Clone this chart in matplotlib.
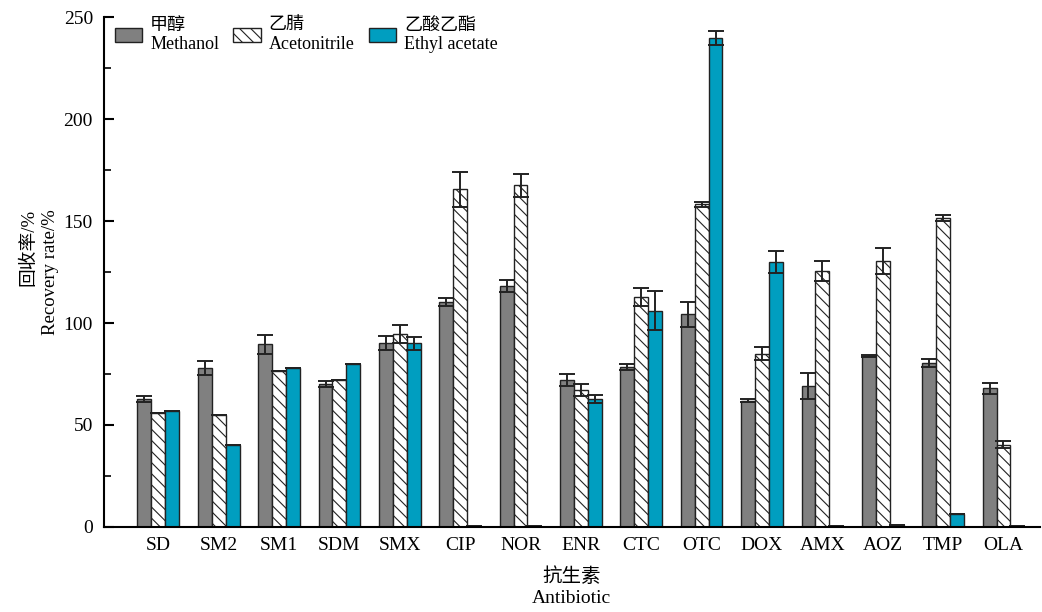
import numpy as np
import matplotlib
matplotlib.use("Agg")
import matplotlib.pyplot as plt

plt.rcParams['font.family'] = ['Liberation Serif', 'Noto Sans CJK SC']
plt.rcParams['hatch.linewidth'] = 0.8

antibiotics = ["SD", "SM2", "SM1", "SDM", "SMX", "CIP", "NOR", "ENR",
               "CTC", "OTC", "DOX", "AMX", "AOZ", "TMP", "OLA"]

methanol = [62.7, 78, 89.5, 70, 90.3, 110.3, 118, 72, 78.6, 104.3, 62, 69, 84, 80.2, 68]
methanol_err = [1.5, 3.5, 4.5, 1.5, 3.3, 2, 3, 3, 1.5, 6.2, 0.8, 6.5, 0.5, 2, 2.7]

acetonitrile = [56, 55, 76.5, 72, 94.5, 165.5, 167.5, 67, 112.6, 158.2, 85, 125.5, 130.5, 151.3, 40.3]
acetonitrile_err = [0, 0, 0, 0, 4.5, 8.5, 5.7, 3, 4.4, 1.2, 3.3, 4.8, 6.5, 1.5, 1.7]

ethyl_acetate = [57, 40.3, 77.8, 80, 90, 0.3, 0.5, 62.6, 106, 239.7, 129.8, 0.3, 1, 6.2, 0.5]
ethyl_acetate_err = [0, 0, 0, 0, 3, 0, 0, 2, 9.5, 3.5, 5.5, 0, 0, 0, 0]

x = np.arange(len(antibiotics))
w = 0.23

fig = plt.figure(figsize=(10.42, 6.12), dpi=100)
ax = fig.add_axes([0.0998, 0.1389, 0.898, 0.8333])

err_kw = dict(ecolor="#222222", elinewidth=1.4, capsize=6, capthick=1.4)

ax.bar(x - w, methanol, w, yerr=methanol_err, color="#808080",
       edgecolor="#222222", linewidth=1, error_kw=err_kw,
       label="甲醇\nMethanol")
ax.bar(x, acetonitrile, w, yerr=acetonitrile_err, color="white",
       edgecolor="#222222", linewidth=1, hatch="\\\\\\", error_kw=err_kw,
       label="乙腈\nAcetonitrile")
ax.bar(x + w, ethyl_acetate, w, yerr=ethyl_acetate_err, color="#009EC0",
       edgecolor="#222222", linewidth=1, error_kw=err_kw,
       label="乙酸乙酯\nEthyl acetate")

ax.set_xlim(-0.9, 14.6)
ax.set_ylim(0, 250)
ax.set_yticks([0, 50, 100, 150, 200, 250])
ax.set_yticks([25, 75, 125, 175, 225], minor=True)
ax.set_xticks(x)
ax.set_xticklabels(antibiotics)

for s in ["top", "right"]:
    ax.spines[s].set_visible(False)
ax.spines["left"].set_linewidth(1.5)
ax.spines["bottom"].set_linewidth(1.5)

ax.tick_params(axis="y", direction="in", length=7, width=1.5, labelsize=14, pad=8)
ax.tick_params(axis="y", which="minor", direction="in", length=5, width=1.2)
ax.tick_params(axis="x", length=0, labelsize=14, pad=7)

ax.set_ylabel("回收率/%\nRecovery rate/%", fontsize=13.5, linespacing=1.35,
              multialignment="right", labelpad=3)
ax.set_xlabel("抗生素\nAntibiotic", fontsize=14, linespacing=1.3, labelpad=10)

ax.legend(loc="upper left", bbox_to_anchor=(0.0, 1.022), ncol=3, frameon=False,
          fontsize=13, handlelength=1.5, handleheight=0.85, columnspacing=0.8,
          handletextpad=0.45, borderaxespad=0.2)

fig.savefig("out.png", dpi=100)
